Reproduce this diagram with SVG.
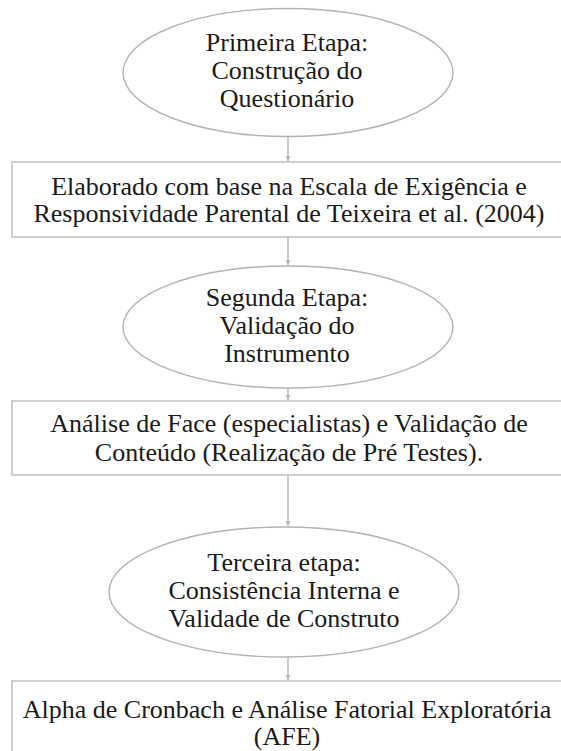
<svg xmlns="http://www.w3.org/2000/svg" width="561" height="751" viewBox="0 0 561 751">
<defs>
<style>
.ell{fill:#fff;stroke:#b3b3b3;stroke-width:1.4}
.box{fill:#fff;stroke:#c4c4c4;stroke-width:1.6}
.t{font-size:26px;fill:#1a1a1a;text-anchor:middle}
.c{stroke:#b8b8b8;stroke-width:1.4;fill:none}
</style>
<marker id="ah" markerWidth="6" markerHeight="6" refX="5" refY="3" orient="auto" markerUnits="userSpaceOnUse">
<path d="M0,0.5 L5.5,3 L0,5.5 Z" fill="#b8b8b8"/>
</marker>
</defs>
<rect width="561" height="751" fill="#fff"/>
<g id="connectors">
<line class="c" x1="288" y1="137" x2="288" y2="161" marker-end="url(#ah)"/>
<line class="c" x1="288" y1="237" x2="288" y2="265" marker-end="url(#ah)"/>
<line class="c" x1="288" y1="388" x2="288" y2="400" marker-end="url(#ah)"/>
<line class="c" x1="288" y1="475" x2="288" y2="526" marker-end="url(#ah)"/>
<line class="c" x1="288" y1="657" x2="288" y2="680" marker-end="url(#ah)"/>
</g>
<g font-family="Liberation Serif, serif">
<g id="n1">
<ellipse class="ell" cx="288" cy="72.5" rx="165" ry="64"/>
<text class="t" x="287" y="51">Primeira Etapa:</text>
<text class="t" x="287" y="79">Construção do</text>
<text class="t" x="287" y="107">Questionário</text>
</g>
<g id="n2">
<rect class="box" x="12" y="162" width="560" height="75"/>
<text class="t" x="289" y="195">Elaborado com base na Escala de Exigência e</text>
<text class="t" x="289" y="222">Responsividade Parental de Teixeira et al. (2004)</text>
</g>
<g id="n3">
<ellipse class="ell" cx="288" cy="327" rx="165" ry="61"/>
<text class="t" x="287" y="306">Segunda Etapa:</text>
<text class="t" x="287" y="334">Validação do</text>
<text class="t" x="287" y="362">Instrumento</text>
</g>
<g id="n4">
<rect class="box" x="12" y="401" width="560" height="74"/>
<text class="t" x="289" y="432">Análise de Face (especialistas) e Validação de</text>
<text class="t" x="289" y="461">Conteúdo (Realização de Pré Testes).</text>
</g>
<g id="n5">
<ellipse class="ell" cx="284" cy="592" rx="175" ry="65"/>
<text class="t" x="284" y="571">Terceira etapa:</text>
<text class="t" x="284" y="599">Consistência Interna e</text>
<text class="t" x="284" y="627">Validade de Construto</text>
</g>
<g id="n6">
<rect class="box" x="12" y="681" width="560" height="80"/>
<text class="t" x="287" y="718">Alpha de Cronbach e Análise Fatorial Exploratória</text>
<text class="t" x="287" y="745">(AFE)</text>
</g>
</g>
</svg>
